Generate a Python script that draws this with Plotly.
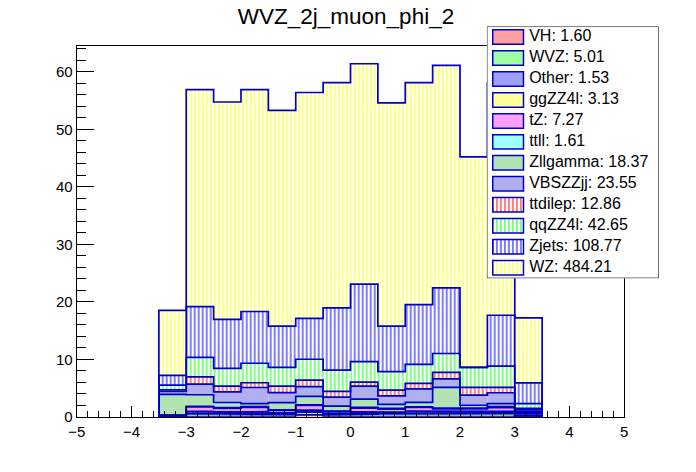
import numpy as np
import plotly.graph_objects as go

# bin edges of the phi histogram (14 bins of 0.5)
bin_edges = [-3.5, -3.0, -2.5, -2.0, -1.5, -1.0, -0.5, 0.0, 0.5, 1.0, 1.5, 2.0, 2.5, 3.0, 3.5]

# per-bin yields, stacked bottom -> top
vh       = [0.02, 0.12, 0.10, 0.12, 0.10, 0.35, 0.10, 0.12, 0.10, 0.12, 0.10, 0.12, 0.10, 0.03]
wvz      = [0.05, 0.40, 0.40, 0.40, 0.30, 0.45, 0.25, 0.35, 0.40, 0.45, 0.50, 0.45, 0.46, 0.15]
other    = [0.10, 0.12, 0.12, 0.12, 0.10, 0.12, 0.10, 0.15, 0.12, 0.12, 0.12, 0.12, 0.12, 0.00]
ggzz4l   = [0.05, 0.30, 0.25, 0.25, 0.20, 0.25, 0.15, 0.25, 0.20, 0.30, 0.25, 0.30, 0.28, 0.10]
tz       = [0.05, 0.80, 0.60, 0.75, 0.40, 0.80, 0.30, 0.65, 0.50, 0.65, 0.40, 0.40, 0.65, 0.32]
ttll     = [0.03, 0.10, 0.12, 0.15, 0.10, 0.12, 0.10, 0.12, 0.15, 0.10, 0.15, 0.12, 0.15, 0.10]
zllgamma = [3.60, 2.00, 0.90, 0.51, 1.25, 1.45, 0.85, 1.45, 0.68, 0.76, 3.60, 0.50, 0.52, 0.30]
vbszzjj  = [0.50, 1.85, 1.84, 2.80, 1.77, 1.71, 1.57, 2.25, 1.50, 2.35, 1.49, 1.75, 1.90, 0.27]
ttdilep  = [0.30, 1.25, 1.00, 0.82, 1.12, 1.12, 1.00, 0.70, 1.00, 0.95, 1.10, 1.35, 0.95, 0.20]
qqzz4l   = [0.80, 3.38, 3.08, 3.39, 3.27, 3.64, 3.69, 3.57, 3.21, 3.31, 3.30, 3.50, 3.68, 0.83]
zjets    = [1.69, 8.84, 8.55, 9.00, 7.15, 7.10, 10.85, 13.45, 7.90, 10.40, 11.40, 0.00, 8.85, 3.59]
wz       = [11.31, 37.74, 37.79, 38.59, 37.54, 39.29, 39.14, 38.34, 38.84, 38.59, 38.69, 36.59, 40.45, 11.31]

# name, values, colour, hatch ("." = ROOT checker 3001, "|" = vertical lines)
stack = [
    ("VH", vh, "#ff0000", "."),
    ("WVZ", wvz, "#00ff00", "."),
    ("Other", other, "#0000ff", "."),
    ("ggZZ4l", ggzz4l, "#ffff00", "."),
    ("tZ", tz, "#ff00ff", "."),
    ("ttll", ttll, "#00ffff", "."),
    ("Zllgamma", zllgamma, "#2fb52f", "."),
    ("VBSZZjj", vbszzjj, "#2a2ad8", "."),
    ("ttdilep", ttdilep, "#ff0000", "|"),
    ("qqZZ4l", qqzz4l, "#00ff00", "|"),
    ("Zjets", zjets, "#0000ff", "|"),
    ("WZ", wz, "#ffff00", "|"),
]

edges = np.array(bin_edges)
centers = (edges[:-1] + edges[1:]) / 2
width = edges[1:] - edges[:-1]
outline = "#0000cc"
font = "Liberation Sans, Arial, sans-serif"
W, H = 696, 472


def hatch(col, kind):
    if kind == "|":
        return dict(shape="|", fgcolor=col, bgcolor="white", size=4, solidity=0.5)
    return dict(shape=".", fgcolor=col, bgcolor="white", size=2, solidity=0.75)


fig = go.Figure()

# stacked fills
cum = np.zeros(len(centers))
for name, vals, col, kind in stack:
    fig.add_trace(go.Bar(
        x=centers, y=vals, base=cum.copy(), width=width,
        marker=dict(color="white", line=dict(width=0), pattern=hatch(col, kind)),
        showlegend=False, hoverinfo="skip",
    ))
    cum = cum + np.array(vals)

# ROOT-style step outlines of every cumulative histogram
cum = np.zeros(len(centers))
for name, vals, col, kind in stack:
    cum = cum + np.array(vals)
    xs = np.repeat(edges, 2)
    ys = np.concatenate([[0], np.repeat(cum, 2), [0]])
    fig.add_trace(go.Scatter(
        x=xs, y=ys, mode="lines", line=dict(color=outline, width=1.7),
        showlegend=False, hoverinfo="skip",
    ))

# TLegend drawn in its own little axes (x2/y2), one row per sample
n = len(stack)
fig.add_trace(go.Bar(
    x=[0.5], y=[n], base=[0], width=[1], xaxis="x2", yaxis="y2",
    marker=dict(color="white", line=dict(color="black", width=1)),
    cliponaxis=False, showlegend=False, hoverinfo="skip",
))
labels = []
for i, (name, vals, col, kind) in enumerate(stack):
    fig.add_trace(go.Bar(
        y=[i + 0.5], x=[0.179], base=[0.034], width=[0.69], orientation="h",
        xaxis="x2", yaxis="y2",
        marker=dict(color="white", line=dict(color=outline, width=1.5),
                    pattern=hatch(col, kind)),
        showlegend=False, hoverinfo="skip",
    ))
    labels.append(f"{name}: {sum(vals):.2f}")
fig.add_trace(go.Scatter(
    x=[0.246] * n, y=np.arange(n) + 0.5, text=labels, mode="text",
    textposition="middle right", textfont=dict(size=16, color="black"),
    xaxis="x2", yaxis="y2", cliponaxis=False, showlegend=False, hoverinfo="skip",
))

fig.update_layout(
    width=W, height=H,
    barmode="overlay",
    paper_bgcolor="white", plot_bgcolor="white",
    margin=dict(l=0, r=0, t=0, b=0),
    font=dict(family=font, size=15, color="black"),
    title=dict(text="WVZ_2j_muon_phi_2", x=346 / W, xanchor="center",
               y=1 - 16 / H, yanchor="middle", font=dict(size=22.5)),
    showlegend=False,
    xaxis=dict(
        domain=[69 / W, 627 / W], range=[-5, 5], dtick=1,
        ticks="inside", ticklen=11, tickcolor="black",
        minor=dict(dtick=0.2, ticks="inside", ticklen=6, tickcolor="black"),
        showgrid=False, zeroline=False, showline=True, mirror=True,
        linecolor="black", linewidth=1, ticklabelstandoff=1,
    ),
    yaxis=dict(
        domain=[(H - 424) / H, (H - 47) / H], range=[0, 64.45], dtick=10,
        ticks="inside", ticklen=17, tickcolor="black",
        minor=dict(dtick=2, ticks="inside", ticklen=9, tickcolor="black"),
        showgrid=False, zeroline=False, showline=True, mirror=True,
        linecolor="black", linewidth=1,
    ),
    xaxis2=dict(domain=[487 / W, 662 / W], range=[0, 1], anchor="y2", visible=False,
                fixedrange=True),
    yaxis2=dict(domain=[(H - 283) / H, (H - 27) / H], range=[n, 0], anchor="x2",
                visible=False, fixedrange=True),
)

# drop the browser's default 8px body margin so the canvas sits at the page corner
fig.write_html("out.html", config={"displayModeBar": False},
               post_script="document.body.style.margin = '0px';")
